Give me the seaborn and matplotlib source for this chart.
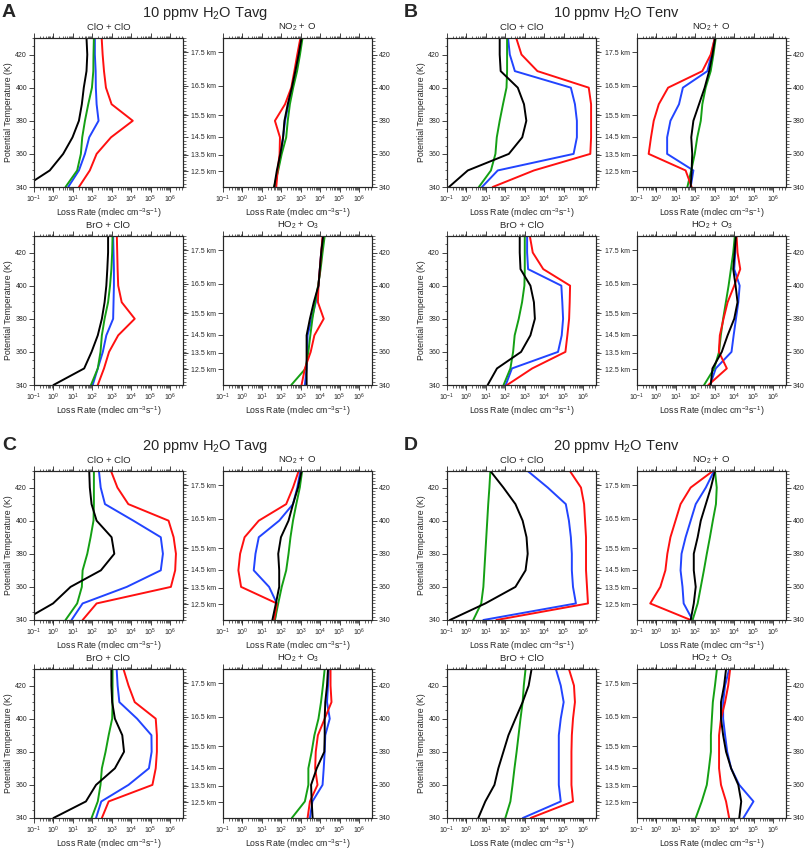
import numpy as np
import pandas as pd
import matplotlib
matplotlib.use('Agg')
import matplotlib.pyplot as plt
import seaborn as sns
from matplotlib.ticker import LogLocator, NullFormatter, MultipleLocator

# potential temperature levels (K)
theta = [340, 350, 360, 370, 380, 390, 400, 410, 420, 430]
km_theta = [349.4, 359.6, 370.5, 383.4, 401.2, 421.4]
km_labels = ['12.5 km', '13.5 km', '14.5 km', '15.5 km', '16.5 km', '17.5 km']
cases = ['black', 'green', 'blue', 'red']
colors = {'black': 'black', 'green': '#14a014', 'blue': '#2244ff', 'red': '#ff1010'}
reactions = ['ClO + ClO', 'NO$_2$ + O', 'BrO + ClO', 'HO$_2$ + O$_3$']

# log10 loss rate (molec cm-3 s-1), rows: black, green, blue, red; 340 K -> 430 K
A_clo = [[-1.5, -0.19, 0.50, 0.98, 1.31, 1.46, 1.56, 1.70, 1.74, 1.70],
         [0.62, 1.22, 1.41, 1.48, 1.62, 1.79, 1.98, 2.05, 2.06, 2.08],
         [0.76, 1.31, 1.62, 1.84, 2.32, 2.22, 2.18, 2.17, 2.13, 2.13],
         [1.31, 1.87, 2.22, 2.96, 4.08, 2.99, 2.70, 2.60, 2.53, 2.48]]
A_no2 = [[1.63, 1.77, 1.95, 2.09, 2.16, 2.33, 2.54, 2.72, 2.89, 3.04],
         [1.63, 1.84, 2.02, 2.25, 2.33, 2.44, 2.61, 2.81, 2.96, 3.09],
         [1.67, 1.81, 1.98, 2.09, 2.19, 2.37, 2.54, 2.72, 2.89, 3.04],
         [1.74, 1.81, 1.91, 1.93, 1.67, 2.19, 2.51, 2.67, 2.82, 2.98]]
A_bro = [[0.0, 1.58, 1.96, 2.28, 2.49, 2.63, 2.72, 2.77, 2.81, 2.81],
         [1.93, 2.28, 2.42, 2.49, 2.63, 2.81, 2.91, 2.98, 3.02, 3.04],
         [2.02, 2.28, 2.54, 2.72, 3.07, 3.09, 3.11, 3.11, 3.09, 3.07],
         [2.28, 2.60, 2.86, 3.33, 4.18, 3.51, 3.33, 3.30, 3.28, 3.26]]
A_ho2 = [[3.30, 3.30, 3.30, 3.30, 3.47, 3.67, 3.91, 3.98, 4.05, 4.15],
         [2.51, 3.25, 3.39, 3.49, 3.60, 3.74, 3.89, 4.02, 4.12, 4.23],
         [3.21, 3.30, 3.33, 3.35, 3.56, 3.77, 3.91, 3.98, 4.05, 4.15],
         [3.04, 3.21, 3.51, 3.70, 4.18, 3.88, 3.91, 3.98, 4.05, 4.12]]

B_clo = [[-0.90, 0.07, 2.18, 2.87, 3.08, 2.96, 2.64, 1.76, 1.71, 1.71],
         [0.64, 1.26, 1.49, 1.56, 1.71, 1.88, 2.06, 2.09, 2.09, 2.09],
         [0.80, 1.61, 5.51, 5.68, 5.68, 5.58, 5.37, 2.49, 2.23, 2.14],
         [1.35, 3.47, 6.37, 6.41, 6.41, 6.41, 6.29, 3.65, 2.83, 2.56]]
B_no2 = [[1.76, 1.81, 1.84, 1.79, 1.90, 2.19, 2.48, 2.71, 2.88, 3.02],
         [1.59, 1.79, 1.97, 2.10, 2.28, 2.36, 2.53, 2.79, 2.93, 3.05],
         [1.76, 1.90, 0.55, 0.55, 0.72, 1.16, 1.36, 2.62, 2.83, 3.00],
         [1.81, 1.50, -0.40, -0.28, -0.14, 0.12, 0.60, 2.36, 2.79, 3.00]]
B_bro = [[1.09, 1.57, 2.81, 3.29, 3.52, 3.47, 3.29, 2.78, 2.74, 2.74],
         [1.91, 2.26, 2.40, 2.48, 2.69, 2.86, 2.98, 3.00, 3.00, 3.00],
         [2.02, 2.34, 4.71, 4.90, 4.97, 4.93, 4.88, 3.17, 3.12, 3.12],
         [2.09, 3.38, 5.09, 5.19, 5.28, 5.31, 5.33, 3.95, 3.41, 3.26]]
B_ho2 = [[2.79, 2.88, 3.36, 3.66, 4.00, 4.17, 4.07, 3.95, 4.02, 4.09],
         [2.45, 2.97, 3.22, 3.31, 3.43, 3.57, 3.71, 3.83, 3.95, 4.03],
         [2.76, 3.05, 3.86, 3.97, 4.09, 4.21, 4.28, 4.00, 4.05, 4.09],
         [2.67, 3.62, 3.21, 3.26, 3.45, 3.66, 4.00, 4.31, 4.17, 4.12]]

C_clo = [[-1.5, -0.02, 0.88, 2.44, 3.13, 2.99, 2.22, 1.96, 1.87, 1.84],
         [0.62, 1.22, 1.46, 1.50, 1.74, 1.91, 2.06, 2.08, 2.08, 2.08],
         [0.93, 1.50, 3.77, 5.52, 5.63, 5.52, 4.11, 2.65, 2.43, 2.34],
         [1.50, 2.22, 6.04, 6.26, 6.30, 6.18, 5.92, 3.85, 3.29, 2.96]]
C_no2 = [[1.54, 1.72, 1.89, 1.89, 1.84, 1.98, 2.37, 2.60, 2.86, 3.04],
         [1.67, 1.84, 2.02, 2.25, 2.37, 2.47, 2.60, 2.77, 2.95, 3.07],
         [1.67, 1.77, 1.37, 0.58, 0.67, 0.84, 1.89, 2.60, 2.82, 2.98],
         [1.63, 1.77, -0.07, -0.21, -0.12, 0.11, 0.84, 2.25, 2.60, 2.89]]
C_bro = [[0.0, 1.67, 2.19, 3.16, 3.63, 3.54, 3.16, 3.02, 2.98, 2.98],
         [1.96, 2.28, 2.42, 2.49, 2.68, 2.84, 3.02, 3.04, 3.04, 3.04],
         [2.19, 2.46, 3.86, 4.91, 5.05, 5.04, 4.30, 3.39, 3.30, 3.25],
         [2.49, 2.84, 5.09, 5.26, 5.32, 5.32, 5.26, 4.18, 3.86, 3.60]]
C_ho2 = [[3.61, 3.56, 3.53, 3.82, 4.21, 4.23, 4.23, 4.26, 4.35, 4.40],
         [2.54, 3.21, 3.39, 3.39, 3.56, 3.70, 3.91, 4.04, 4.14, 4.23],
         [3.47, 3.60, 4.12, 4.18, 4.23, 4.26, 4.49, 4.35, 4.40, 4.44],
         [3.35, 3.47, 3.86, 3.74, 3.77, 3.88, 4.23, 4.58, 4.53, 4.53]]

D_clo = [[-0.85, 0.97, 2.52, 3.04, 3.15, 3.09, 2.89, 2.52, 1.90, 1.23],
         [0.35, 0.76, 0.87, 0.92, 0.97, 1.02, 1.07, 1.12, 1.18, 1.23],
         [0.87, 5.63, 5.48, 5.42, 5.42, 5.37, 5.27, 5.11, 4.18, 3.15],
         [1.54, 6.25, 6.20, 6.15, 6.15, 6.15, 6.10, 6.05, 5.89, 5.32]]
D_no2 = [[1.76, 1.92, 2.02, 1.92, 1.92, 2.12, 2.28, 2.54, 2.80, 3.01],
         [1.86, 2.12, 2.28, 2.44, 2.59, 2.75, 2.90, 3.06, 3.10, 3.01],
         [1.86, 1.40, 1.34, 1.24, 1.29, 1.50, 1.76, 2.02, 2.54, 2.96],
         [1.76, -0.32, 0.20, 0.46, 0.56, 0.72, 0.98, 1.24, 1.76, 2.90]]
D_bro = [[0.61, 0.97, 1.44, 1.64, 1.90, 2.16, 2.52, 2.89, 3.20, 3.35],
         [2.00, 2.26, 2.37, 2.47, 2.58, 2.68, 2.78, 2.89, 2.95, 3.04],
         [2.90, 4.85, 4.75, 4.75, 4.75, 4.75, 4.85, 5.00, 4.85, 4.60],
         [3.30, 5.48, 5.40, 5.40, 5.40, 5.42, 5.48, 5.58, 5.53, 5.27]]
D_ho2 = [[4.26, 4.36, 4.21, 3.84, 3.58, 3.43, 3.32, 3.32, 3.48, 3.58],
         [2.02, 2.33, 2.59, 2.70, 2.80, 2.80, 2.85, 2.90, 3.01, 3.11],
         [4.47, 4.99, 4.26, 3.84, 3.64, 3.53, 3.43, 3.43, 3.53, 3.74],
         [3.74, 3.58, 3.32, 3.22, 3.22, 3.22, 3.32, 3.53, 3.69, 3.79]]

panels = {
    'A': ('10 ppmv H$_2$O Tavg', [A_clo, A_no2, A_bro, A_ho2]),
    'B': ('10 ppmv H$_2$O Tenv', [B_clo, B_no2, B_bro, B_ho2]),
    'C': ('20 ppmv H$_2$O Tavg', [C_clo, C_no2, C_bro, C_ho2]),
    'D': ('20 ppmv H$_2$O Tenv', [D_clo, D_no2, D_bro, D_ho2]),
}

# long table for seaborn
rows = []
for p, (title, blocks) in panels.items():
    for r, block in zip(reactions, blocks):
        for c, vals in zip(cases, block):
            for t, v in zip(theta, vals):
                rows.append((p, r, c, t, 10.0 ** v))
df = pd.DataFrame(rows, columns=['panel', 'reaction', 'case', 'theta', 'rate'])

sns.set_style('ticks')
plt.rcParams['font.family'] = ['Liberation Sans', 'DejaVu Sans']
plt.rcParams['mathtext.fontset'] = 'custom'
plt.rcParams['mathtext.rm'] = 'Liberation Sans'
plt.rcParams['mathtext.it'] = 'Liberation Sans:italic'

W, H = 806, 849
fig = plt.figure(figsize=(W / 100, H / 100), dpi=100)

col_x = {'A': (34, 223), 'B': (447, 637), 'C': (34, 223), 'D': (447, 637)}
row_y = {'A': (38, 236), 'B': (38, 236), 'C': (471, 669), 'D': (471, 669)}
letter_xy = {'A': (2, 17), 'B': (404, 17), 'C': (2, 450), 'D': (404, 450)}
title_x = {'A': 205, 'B': 616, 'C': 205, 'D': 616}
aw, ah = 149, 149
tick_fs = 5.0
lab_fs = 6.3


def style_axis(ax, left_col):
    ax.set_xscale('log')
    ax.set_xlim(0.1, 4.6e6)
    ax.set_ylim(340, 430)
    ax.xaxis.set_major_locator(LogLocator(base=10, numticks=20))
    ax.xaxis.set_minor_locator(LogLocator(base=10, subs=np.arange(2, 10), numticks=20))
    ax.xaxis.set_minor_formatter(NullFormatter())
    ax.tick_params(axis='x', which='both', top=True, direction='out', labelsize=tick_fs, pad=1.5)
    ax.tick_params(axis='x', which='major', length=3.5, width=0.6)
    ax.tick_params(axis='x', which='minor', length=1.8, width=0.5)
    ax.set_xlabel('Loss Rate (molec cm$^{-3}$s$^{-1}$)', fontsize=lab_fs, labelpad=0.5)
    for s in ax.spines.values():
        s.set_linewidth(0.8)
    tw = ax.twinx()
    tw.set_ylim(340, 430)
    if left_col:
        ax.set_yticks([340, 360, 380, 400, 420])
        ax.yaxis.set_minor_locator(MultipleLocator(5))
        ax.set_ylabel('Potential Temperature (K)', fontsize=lab_fs, labelpad=2)
        tw.set_yticks(km_theta)
        tw.set_yticklabels([])
    else:
        ax.set_yticks(km_theta)
        ax.set_yticklabels(km_labels)
        ax.set_ylabel('')
        tw.set_yticks([340, 360, 380, 400, 420])
    ax.tick_params(axis='y', which='major', direction='out', length=3.5, width=0.6,
                   labelsize=tick_fs, pad=1.5)
    ax.tick_params(axis='y', which='minor', direction='out', length=1.8, width=0.5)
    tw.yaxis.set_minor_locator(MultipleLocator(2))
    tw.tick_params(axis='y', which='major', direction='out', length=3.5, width=0.6,
                   labelsize=tick_fs, pad=1.5)
    tw.tick_params(axis='y', which='minor', direction='out', length=1.8, width=0.6,
                   color='#555555')
    for s in tw.spines.values():
        s.set_linewidth(0.8)


for p, (title, blocks) in panels.items():
    xs = col_x[p]
    ys = row_y[p]
    for i, r in enumerate(reactions):
        x0 = xs[i % 2]
        y0 = ys[i // 2]
        ax = fig.add_axes([x0 / W, 1 - (y0 + ah) / H, aw / W, ah / H])
        sub = df[(df['panel'] == p) & (df['reaction'] == r)]
        sns.lineplot(data=sub, x='rate', y='theta', hue='case', palette=colors,
                     hue_order=['blue', 'green', 'red', 'black'],
                     sort=False, estimator=None, legend=False, linewidth=1.4, ax=ax)
        ax.set_title(r, fontsize=6.8, pad=6)
        style_axis(ax, i % 2 == 0)
    fig.text(letter_xy[p][0] / W, 1 - letter_xy[p][1] / H, p, fontsize=14,
             fontweight='bold', ha='left', va='baseline')
    fig.text(title_x[p] / W, 1 - (letter_xy[p][1]) / H, title, fontsize=10.5,
             ha='center', va='baseline')

fig.savefig('out.png', dpi=100)
